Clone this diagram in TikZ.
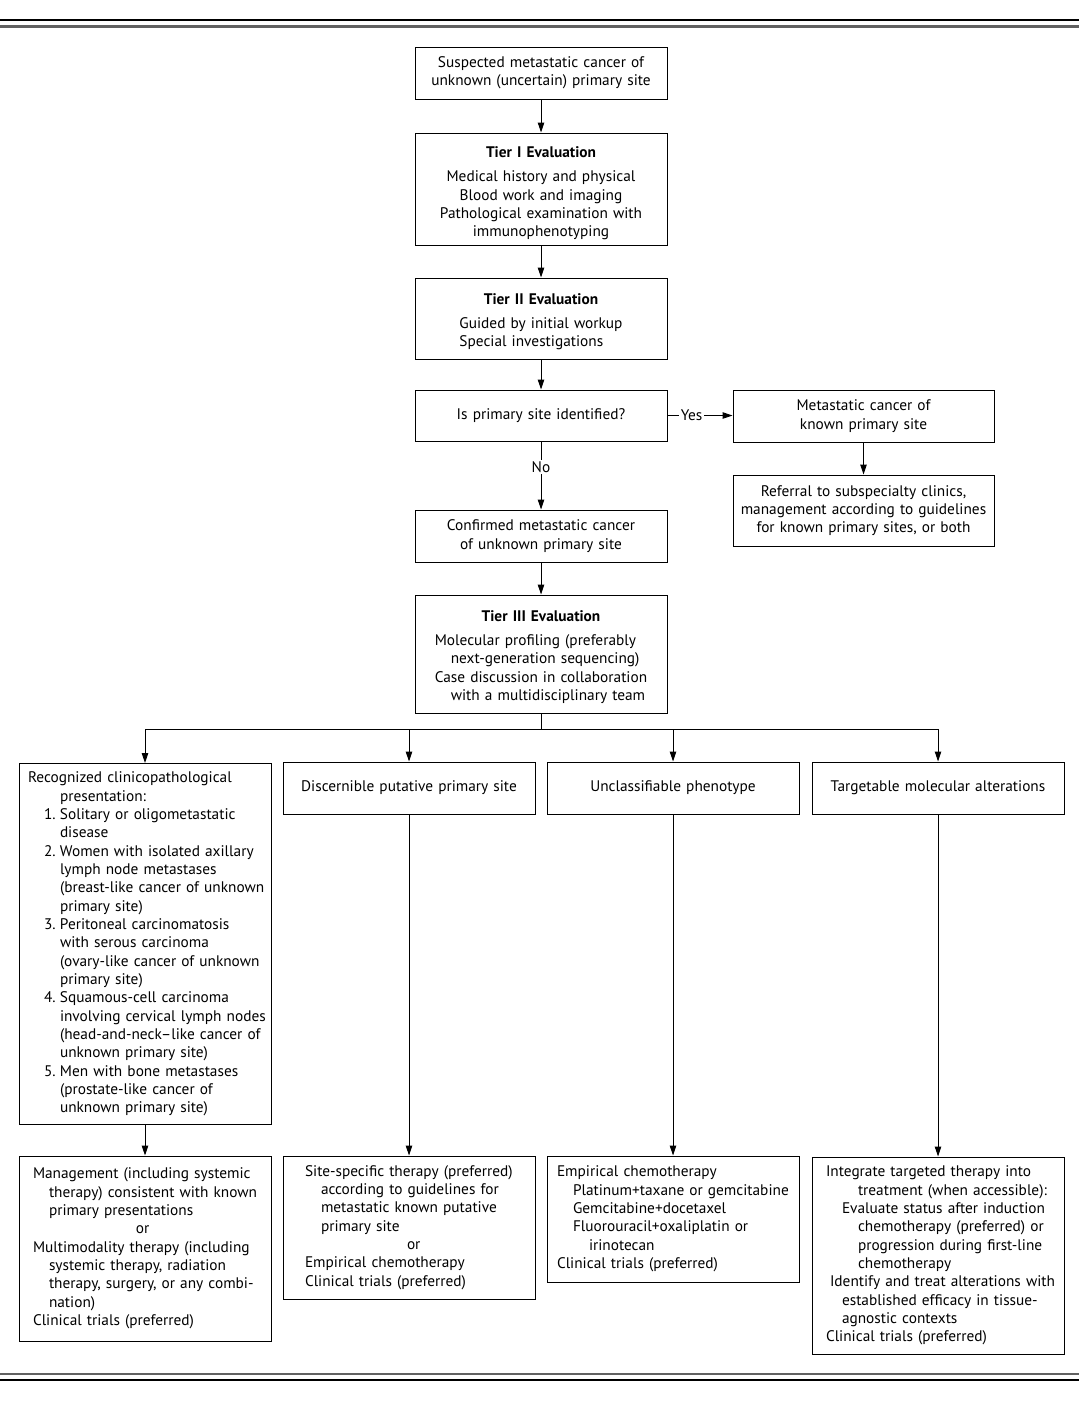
\documentclass[tikz,border=0pt]{standalone}
\usepackage{fontspec}
\setmainfont{PT Sans}
\usetikzlibrary{arrows.meta}
\newdimen\px \px=0.75pt
\newcommand{\Ln}[2]{\hspace*{#1}\mbox{#2}}
\newcommand{\Nm}[3]{\hspace*{#1}\makebox[12pt][l]{#2}\mbox{#3}}
\begin{document}
\begin{tikzpicture}[x=0.75pt,y=-0.75pt,
  font=\fontsize{11.5pt}{13.75pt}\selectfont,
  bx/.style n args={2}{draw, line width=0.7pt, inner sep=0pt, text width=#1\px, minimum height=#2\px, align=center},
  lbx/.style n args={2}{bx={#1}{#2}, align=left},
  arr/.style={-{Triangle[length=7.5pt,width=4.8pt]}, line width=0.7pt},
  ln/.style={line width=0.7pt},
  lab/.style={fill=white, inner sep=1pt}]
\useasboundingbox (0,0) rectangle (1079,1403);
\fill[white] (0,0) rectangle (1079,1403);
% rules
\draw[line width=0.9pt] (0,20) -- (1079,20);
\draw[line width=1.9pt, black!62] (0,26.5) -- (1079,26.5);
\draw[line width=1.9pt, black!62] (0,1374) -- (1079,1374);
\draw[line width=0.9pt] (0,1380) -- (1079,1380);

\node[bx={252}{52}] (A) at (541,73) {Suspected metastatic cancer of\\unknown (uncertain) primary site};
\node[bx={252}{112}] (B) at (541,189) {\rule{0pt}{14.5pt}\textbf{Tier I Evaluation}\\[4.5pt]Medical history and physical\\Blood work and imaging\\Pathological examination with\\immunophenotyping};
\node[bx={252}{81}] (C) at (541,318.5) {\rule{0pt}{14.5pt}\textbf{Tier II Evaluation}\\[4.5pt]\begin{tabular}[t]{@{}l@{}}Guided by initial workup\\Special investigations\end{tabular}};
\node[bx={252}{51}] (D) at (541,415.5) {Is primary site identified?};
\node[bx={261}{52}] (E) at (863.5,416) {Metastatic cancer of\\known primary site};
\node[bx={261}{71}] (F) at (863.5,510.5) {Referral to subspecialty clinics,\\management according to guidelines\\for known primary sites, or both};
\node[bx={252}{52}] (G) at (541,536) {Confirmed metastatic cancer\\of unknown primary site};
\node[bx={252}{118}] (H) at (541,654) {\rule{0pt}{14.5pt}\textbf{Tier III Evaluation}\\[4.5pt]\begin{tabular}[t]{@{}l@{}}Molecular profiling (preferably\\\hspace*{12pt}next-generation sequencing)\\Case discussion in collaboration\\\hspace*{12pt}with a multidisciplinary team\end{tabular}};

\node[lbx={252}{361}] (I1) at (145,944) {%
\Ln{6.75pt}{Recognized clinicopathological}\\
\Ln{30.75pt}{presentation:}\\
\Nm{18.75pt}{1.}{Solitary or oligometastatic}\\
\Ln{30.75pt}{disease}\\
\Nm{18.75pt}{2.}{Women with isolated axillary}\\
\Ln{30.75pt}{lymph node metastases}\\
\Ln{30.75pt}{(breast-like cancer of unknown}\\
\Ln{30.75pt}{primary site)}\\
\Nm{18.75pt}{3.}{Peritoneal carcinomatosis}\\
\Ln{30.75pt}{with serous carcinoma}\\
\Ln{30.75pt}{(ovary-like cancer of unknown}\\
\Ln{30.75pt}{primary site)}\\
\Nm{18.75pt}{4.}{Squamous-cell carcinoma}\\
\Ln{30.75pt}{involving cervical lymph nodes}\\
\Ln{30.75pt}{(head-and-neck–like cancer of}\\
\Ln{30.75pt}{unknown primary site)}\\
\Nm{18.75pt}{5.}{Men with bone metastases}\\
\Ln{30.75pt}{(prostate-like cancer of}\\
\Ln{30.75pt}{unknown primary site)}};
\node[bx={252}{52}] (I2) at (409,788) {Discernible putative primary site};
\node[bx={252}{52}] (I3) at (673,788) {Unclassifiable phenotype};
\node[bx={252}{52}] (I4) at (938,788) {Targetable molecular alterations};

\node[lbx={252}{185}] (J1) at (145,1248.5) {%
\Ln{10.5pt}{Management (including systemic}\\
\Ln{22.5pt}{therapy) consistent with known}\\
\Ln{22.5pt}{primary presentations}\\
\Ln{87.75pt}{or}\\
\Ln{10.5pt}{Multimodality therapy (including}\\
\Ln{22.5pt}{systemic therapy, radiation}\\
\Ln{22.5pt}{therapy, surgery, or any combi-}\\
\Ln{22.5pt}{nation)}\\
\Ln{10.5pt}{Clinical trials (preferred)}};
\node[lbx={252}{143}] (J2) at (409,1227.5) {%
\Ln{16.5pt}{Site-specific therapy (preferred)}\\
\Ln{28.5pt}{according to guidelines for}\\
\Ln{28.5pt}{metastatic known putative}\\
\Ln{28.5pt}{primary site}\\
\Ln{93pt}{or}\\
\Ln{16.5pt}{Empirical chemotherapy}\\
\Ln{16.5pt}{Clinical trials (preferred)}};
\node[lbx={252}{126}] (J3) at (673,1219) {%
\Ln{7.5pt}{Empirical chemotherapy}\\
\Ln{19.5pt}{Platinum+taxane or gemcitabine}\\
\Ln{19.5pt}{Gemcitabine+docetaxel}\\
\Ln{19.5pt}{Fluorouracil+oxaliplatin or}\\
\Ln{31.5pt}{irinotecan}\\
\Ln{7.5pt}{Clinical trials (preferred)}};
\node[lbx={252}{197}] (J4) at (938,1255.5) {%
\Ln{10.5pt}{Integrate targeted therapy into}\\
\Ln{34.5pt}{treatment (when accessible):}\\
\Ln{22.5pt}{Evaluate status after induction}\\
\Ln{34.5pt}{chemotherapy (preferred) or}\\
\Ln{34.5pt}{progression during first-line}\\
\Ln{34.5pt}{chemotherapy}\\
\Ln{13.5pt}{Identify and treat alterations with}\\
\Ln{22.5pt}{established efficacy in tissue-}\\
\Ln{22.5pt}{agnostic contexts}\\
\Ln{10.5pt}{Clinical trials (preferred)}};

% connectors
\draw[arr] (A) -- (B);
\draw[arr] (B) -- (C);
\draw[arr] (C) -- (D);
\draw[arr] (D.east) -- node[lab, pos=0.37] {Yes} (E.west |- D.east);
\draw[arr] (D) -- node[lab, pos=0.38] {No} (G);
\draw[arr] (E) -- (F);
\draw[arr] (G) -- (H);
\coordinate (br) at (541,729);
\draw[ln] (H.south) -- (br);
\draw[ln] (I1.north |- br) -- (I4.north |- br);
\draw[arr] (I1.north |- br) -- (I1.north);
\draw[arr] (I2.north |- br) -- (I2.north);
\draw[arr] (I3.north |- br) -- (I3.north);
\draw[arr] (I4.north |- br) -- (I4.north);
\draw[arr] (I1) -- (J1);
\draw[arr] (I2) -- (J2);
\draw[arr] (I3) -- (J3);
\draw[arr] (I4) -- (J4);
\end{tikzpicture}
\end{document}
